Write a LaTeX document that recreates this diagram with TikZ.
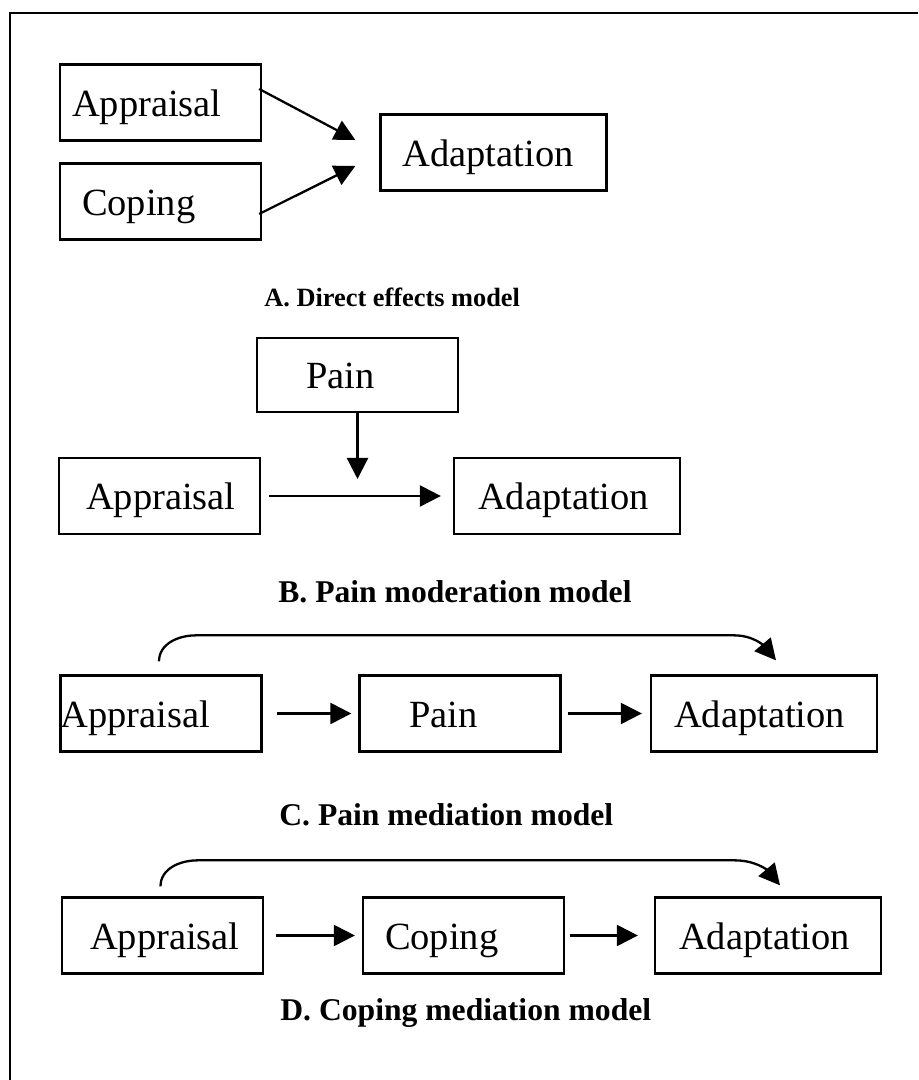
\documentclass[tikz,border=0pt]{standalone}
\usepackage{fontspec}
\setmainfont{Liberation Serif}
\usepackage{tikz}
\usetikzlibrary{positioning}
\usetikzlibrary{arrows.meta,calc}
\tikzset{
	rectnode/.style={rectangle, draw, line width=1.3pt, minimum height=1.52cm, inner ysep=0pt, align=left, text height=20.2pt, text depth=4.8pt, font=\fontsize{21.9pt}{26pt}\selectfont},
	smallbox/.style={rectnode, inner xsep=#1, text width=4.02cm-2*#1},
	widebox/.style={rectnode, inner xsep=#1, text width=4.52cm-2*#1},
	titletext/.style={anchor=west, inner sep=0pt, font=\fontsize{18pt}{21pt}\selectfont\bfseries},
	myarrow/.style={-{Triangle[length=0.42cm, width=0.42cm]}, line width=1.3pt}
}

\begin{document}
\begin{tikzpicture}
		\useasboundingbox (0,0) rectangle (18.36,21.6);
		% frame
		\draw[line width=1.3pt] (0.2,0) -- (0.2,21.34) -- (18.36,21.34);
		
		% A
		\node[smallbox=0.24cm] at (3.21,19.55) (appA) {Appraisal};
		\node[smallbox=0.44cm] at (3.21,17.57) (copA) {Coping};
		\node[widebox=0.44cm] at (9.87,18.55) (adaA) {Adaptation};
		\node[titletext, font=\fontsize{15pt}{18pt}\selectfont\bfseries] at (5.28,15.66) (titleA) {A. Direct effects model};
		
		% B
		\node[smallbox=0.98cm, minimum height=1.48cm] at (7.15,14.1) (painB) {Pain};
		\node[smallbox=0.54cm] at (3.19,11.68) (appB) {Appraisal};
		\node[widebox=0.48cm] at (11.34,11.68) (adaB) {Adaptation};
		\node[titletext] at (5.56,9.76) (titleB) {B. Pain moderation model};
		
		% C
		\node[smallbox=0cm] at (3.22,7.33) (appC) {Appraisal};
		\node[smallbox=1cm] at (9.2,7.33) (painC) {Pain};
		\node[widebox=0.46cm] at (15.28,7.33) (adaC) {Adaptation};
		\node[titletext] at (5.58,5.3) (titleC) {C. Pain mediation model};
		
		% D
		\node[smallbox=0.56cm] at (3.25,2.89) (appD) {Appraisal};
		\node[smallbox=0.44cm] at (9.27,2.89) (copD) {Coping};
		\node[widebox=0.48cm] at (15.36,2.89) (adaD) {Adaptation};
		\node[titletext] at (5.6,1.34) (titleD) {D. Coping mediation model};
		
		%Lines
		\draw[myarrow] ([xshift=-0.06cm, yshift=0.27cm]appA.east) -- ([xshift=-0.48cm, yshift=0.25cm]adaA.west);
		\draw[myarrow] ([xshift=-0.06cm, yshift=-0.25cm]copA.east) -- ([xshift=-0.48cm, yshift=-0.27cm]adaA.west);
		
		\draw[myarrow] ([xshift=0.16cm]appB.east) -- ([xshift=-0.24cm]adaB.west);
		\draw[myarrow, shorten >=0.34cm] (painB.south) -- (painB.south |- appB.east);
		
		\draw[myarrow] ([xshift=0.28cm]appC.east) -- ([xshift=-0.14cm]painC.west);
		\draw[myarrow] ([xshift=0.12cm]painC.east) -- ([xshift=-0.16cm]adaC.west);
		\draw[myarrow] ([xshift=-0.04cm, yshift=0.26cm]appC.north) to[out=90, in=180] ([xshift=0.7cm, yshift=0.78cm]appC.north) -- ([xshift=-0.6cm, yshift=0.78cm]adaC.north) to[out=0, in=130] ([xshift=0.24cm, yshift=0.28cm]adaC.north);
		
		\draw[myarrow] ([xshift=0.24cm]appD.east) -- ([xshift=-0.14cm]copD.west);
		\draw[myarrow] ([xshift=0.1cm]copD.east) -- ([xshift=-0.32cm]adaD.west);
		\draw[myarrow] ([xshift=-0.04cm, yshift=0.2cm]appD.north) to[out=90, in=180] ([xshift=0.7cm, yshift=0.72cm]appD.north) -- ([xshift=-0.66cm, yshift=0.72cm]adaD.north) to[out=0, in=130] ([xshift=0.24cm, yshift=0.22cm]adaD.north);
		
	\end{tikzpicture}
\end{document}
